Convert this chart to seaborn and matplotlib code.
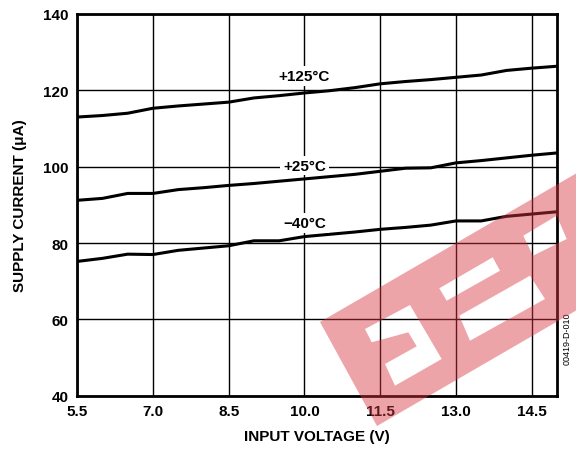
import numpy as np
import pandas as pd
import seaborn as sns
import matplotlib.pyplot as plt
from matplotlib.path import Path
from matplotlib.patches import PathPatch

# data
voltage = [5.5, 6.0, 6.5, 7.0, 7.5, 8.0, 8.5, 9.0, 9.5, 10.0,
           10.5, 11.0, 11.5, 12.0, 12.5, 13.0, 13.5, 14.0, 14.5, 15.0]
i_125 = [113.0, 113.4, 114.0, 115.3, 115.9, 116.4, 116.9, 118.0, 118.6, 119.3,
         119.9, 120.7, 121.7, 122.3, 122.8, 123.4, 124.0, 125.2, 125.8, 126.3]
i_25 = [91.2, 91.7, 93.0, 93.0, 94.0, 94.5, 95.1, 95.6, 96.2, 96.8,
        97.4, 98.0, 98.8, 99.6, 99.7, 101.0, 101.6, 102.3, 103.0, 103.6]
i_m40 = [75.2, 76.0, 77.1, 77.0, 78.1, 78.7, 79.3, 80.6, 80.6, 81.7,
         82.3, 82.9, 83.6, 84.1, 84.7, 85.8, 85.8, 87.0, 87.6, 88.2]
temps = ["+125°C", "+25°C", "\u221240°C"]
x_ticks = [5.5, 7.0, 8.5, 10.0, 11.5, 13.0, 14.5]
y_ticks = [40, 60, 80, 100, 120, 140]

df = pd.DataFrame({
    "voltage": voltage * 3,
    "current": i_125 + i_25 + i_m40,
    "temp": [temps[0]] * 20 + [temps[1]] * 20 + [temps[2]] * 20,
})

sns.set_style("white")
plt.rcParams['font.family'] = ['Liberation Sans', 'DejaVu Sans']
plt.rcParams['text.color'] = 'black'
plt.rcParams['axes.labelcolor'] = 'black'
plt.rcParams['xtick.color'] = 'black'
plt.rcParams['ytick.color'] = 'black'

fig = plt.figure(figsize=(5.76, 4.52), dpi=100)
ax = fig.add_axes([0.134, 0.122, 0.833, 0.845])

sns.lineplot(data=df, x="voltage", y="current", units="temp", estimator=None,
             color="black", lw=2.2, ax=ax, legend=False, zorder=3)

ax.set_xlim(5.5, 15.0)
ax.set_ylim(40, 140)
ax.set_xticks(x_ticks)
ax.set_yticks(y_ticks)
ax.set_xticklabels([f"{v:.1f}" for v in x_ticks], fontsize=11, fontweight="bold")
ax.set_yticklabels([str(v) for v in y_ticks], fontsize=11, fontweight="bold")
ax.tick_params(length=0, pad=6)
ax.grid(True, color="black", lw=1.0)
for s in ax.spines.values():
    s.set_linewidth(2)
    s.set_color("black")

ax.set_xlabel("INPUT VOLTAGE (V)", fontsize=11, fontweight="bold", labelpad=8)
ax.set_ylabel("SUPPLY CURRENT (μA)", fontsize=11, fontweight="bold", labelpad=12)

# curve labels
box = dict(facecolor="white", edgecolor="none", pad=2)
ax.text(10.0, 123.8, temps[0], ha="center", va="center", fontsize=11,
        fontweight="bold", bbox=box, zorder=4)
ax.text(10.0, 100.3, temps[1], ha="center", va="center", fontsize=11,
        fontweight="bold", bbox=box, zorder=4)
ax.text(10.0, 85.2, temps[2], ha="center", va="center", fontsize=11,
        fontweight="bold", bbox=box, zorder=4)

fig.text(0.984, 0.25, "00419-D-010", rotation=90, fontsize=6.5,
         ha="center", va="center")

# watermark stamp (pixel outlines, not data): band with cut-out holes
W, H = 576, 452


def ring(pts, ccw):
    p = np.array([(x / W, 1 - y / H) for x, y in pts])
    area = 0.5 * np.sum(p[:, 0] * np.roll(p[:, 1], -1) - np.roll(p[:, 0], -1) * p[:, 1])
    if (area > 0) != ccw:
        p = p[::-1]
    verts = list(p) + [p[0]]
    codes = [Path.MOVETO] + [Path.LINETO] * (len(p) - 1) + [Path.CLOSEPOLY]
    return verts, codes


band = [(320, 323), (377, 427), (677, 253), (620, 149)]
holes = [
    [(365, 330), (410, 306), (441.7, 360), (395, 386.7), (385, 365),
     (416.7, 347.3), (408.3, 333.3), (371.7, 343.3)],
    [(439.3, 289.3), (492.7, 258.3), (500, 271.7), (446.7, 301.7)],
    [(459.3, 316.7), (530, 276.7), (545, 300), (470, 341.7)],
    [(523.3, 236.7), (556.7, 216.7), (566.7, 240), (533, 256.7)],
]
verts, codes = ring(band, True)
for h in holes:
    v, c = ring(h, False)
    verts += v
    codes += c
fig.patches.append(PathPatch(Path(verts, codes), transform=fig.transFigure,
                             facecolor="#d9353f", edgecolor="none",
                             alpha=0.45, zorder=5))

fig.savefig("out.png", dpi=100)
